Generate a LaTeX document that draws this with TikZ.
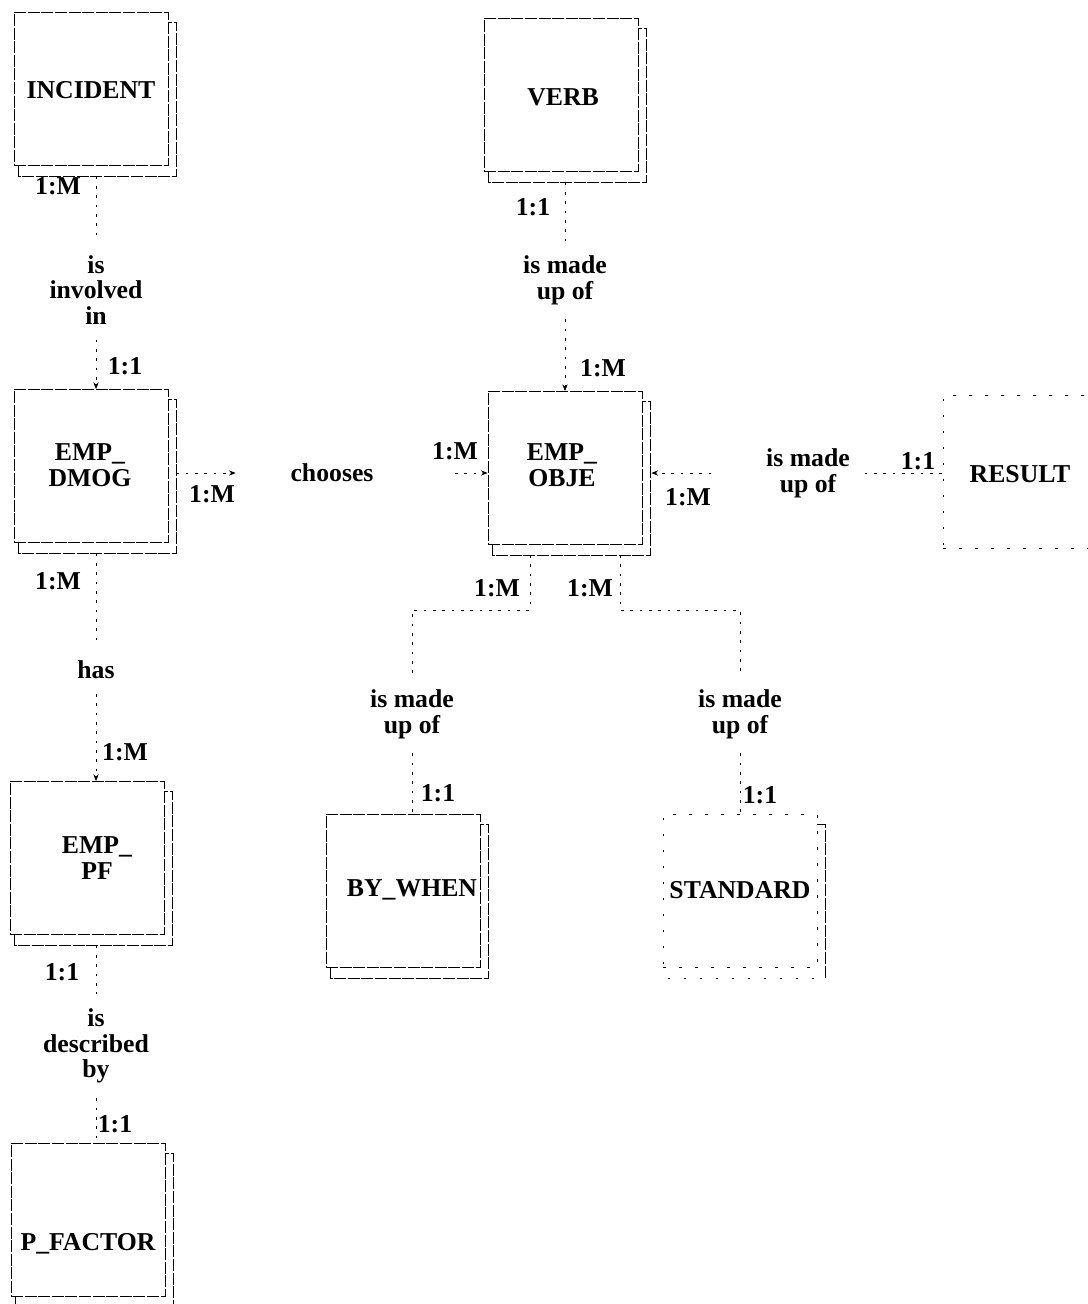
\documentclass[tikz,border=0pt]{standalone}
\usepackage{fontspec}
\setmainfont{Liberation Serif}
\usetikzlibrary{arrows.meta}
\newcommand{\eshadow}[2][]{\draw[shadowline,#1] ([xshift=3.75pt]#2.south west) -- ++(0,-7.5pt) -| ([xshift=6pt,yshift=-7.5pt]#2.north east) -- ([yshift=-7.5pt]#2.north east);}
\begin{document}
\begin{tikzpicture}[x=0.75pt,y=-0.75pt,
 ebox/.style={draw, line width=0.7pt, dash pattern=on 9pt off 1.2pt, minimum width=115.5pt, minimum height=114.75pt, inner sep=0pt},
 shadowline/.style={line width=0.7pt, dash pattern=on 9pt off 1.2pt},
 faintbox/.style={ebox, dash pattern=on 2pt off 10pt},
 faintline/.style={shadowline, dash pattern=on 2pt off 10pt},
 etext/.style={font=\fontsize{19.3}{19.3}\selectfont\bfseries, align=center, inner sep=1pt},
 rtext/.style={etext},
 card/.style={font=\fontsize{19.3}{19.3}\selectfont\bfseries, inner sep=1pt},
 conn/.style={line width=0.5pt, dash pattern=on 2pt off 5pt},
 tip/.style={-{Stealth[length=5pt,width=4pt]}}
]
\useasboundingbox[fill=white] (0,0) rectangle (1088,1304);

% entities
\node[ebox] (incident) at (91,89) {};
\eshadow{incident}
\node[etext] (incident-t) at (91,90) {INCIDENT};

\node[ebox] (verb) at (561,95) {};
\eshadow{verb}
\node[etext] (verb-t) at (563,97) {VERB};

\node[ebox] (dmog) at (91,466) {};
\eshadow{dmog}
\node[etext] (dmog-t) at (90,465) {EMP\_\\DMOG};

\node[ebox] (obje) at (565,468) {};
\eshadow{obje}
\node[etext] (obje-t) at (562,465) {EMP\_\\OBJE};

\node[ebox] (pf) at (87,858) {};
\eshadow{pf}
\node[etext] (pf-t) at (97,858) {EMP\_\\PF};

\node[ebox] (pfactor) at (88,1220) {};
\eshadow{pfactor}
\node[etext] (pfactor-t) at (88,1244) {P\_FACTOR};

\node[ebox] (bywhen) at (403,891) {};
\eshadow{bywhen}
\node[etext] (bywhen-t) at (412,890) {BY\_WHEN};

\node[faintbox] (standard) at (740,891) {};
\draw[shadowline] ([yshift=-7.5pt]standard.north east) -- ([xshift=6pt,yshift=-7.5pt]standard.north east) -- ([xshift=6pt,yshift=-7.5pt]standard.south east);
\draw[faintline] ([xshift=3.75pt,yshift=-7.5pt]standard.south west) -- ([xshift=6pt,yshift=-7.5pt]standard.south east);
\node[etext] (standard-t) at (740,890) {STANDARD};

\node[faintbox] (result) at (1020,472) {};
\node[etext] (result-t) at (1020,474) {RESULT};

% relationships
\node[rtext] (involved) at (96,290) {is\\involved\\in};
\node[rtext] (made1) at (565,280) {is made\\up of};
\node[rtext] (chooses) at (332,473) {chooses};
\node[rtext] (made2) at (808,473) {is made\\up of};
\node[rtext] (has) at (96,670) {has};
\node[rtext] (made3) at (412,714) {is made\\up of};
\node[rtext] (made4) at (740,714) {is made\\up of};
\node[rtext] (described) at (96,1046) {is\\described\\by};

% connectors
\draw[conn] ([yshift=-8pt]incident.south -| involved) -- ([yshift=10pt]involved.north);
\draw[conn,tip] ([yshift=-10pt]involved.south) -- (involved.south |- dmog.north);
\draw[conn] ([yshift=-8pt]verb.south -| made1) -- ([yshift=10pt]made1.north);
\draw[conn,tip] ([yshift=-10pt]made1.south) -- (made1.south |- obje.north);
\draw[conn,tip] ([xshift=6pt]dmog.east |- chooses.west) -- ([xshift=-40pt]chooses.west);
\draw[conn,tip] ([xshift=60pt]chooses.east) -- (chooses.east -| obje.west);
\draw[conn,tip] ([xshift=-40pt]made2.west) -- ([xshift=6.75pt]made2.west -| obje.east);
\draw[conn] ([xshift=10pt]made2.east) -- (made2.east -| result.west);
\draw[conn] ([yshift=-8pt]dmog.south -| has) -- ([yshift=10pt]has.north);
\draw[conn,tip] ([yshift=-10pt]has.south) -- (has.south |- pf.north);
\draw[conn] ([xshift=-26.25pt,yshift=-7.5pt]obje.south) -- ++(0,-41.25pt) -| ([yshift=10pt]made3.north);
\draw[conn] ([xshift=41.25pt,yshift=-7.5pt]obje.south) -- ++(0,-41.25pt) -| ([yshift=10pt]made4.north);
\draw[conn] ([yshift=-10pt]made3.south) -- (made3.south |- bywhen.north);
\draw[conn] ([yshift=-10pt]made4.south) -- (made4.south |- standard.north);
\draw[conn] ([yshift=-8pt]pf.south -| described) -- ([yshift=10pt]described.north);
\draw[conn] ([yshift=-10pt]described.south) -- (described.south |- pfactor.north);

% cardinalities
\node[card] (k1) at (58,186) {1:M};
\node[card] (k2) at (125,366) {1:1};
\node[card] (k3) at (533,207) {1:1};
\node[card] (k4) at (603,368) {1:M};
\node[card] (k5) at (212,494) {1:M};
\node[card] (k6) at (455,451) {1:M};
\node[card] (k7) at (688,497) {1:M};
\node[card] (k8) at (918,461) {1:1};
\node[card] (k9) at (58,581) {1:M};
\node[card] (k10) at (125,752) {1:M};
\node[card] (k11) at (497,588) {1:M};
\node[card] (k12) at (590,588) {1:M};
\node[card] (k13) at (438,793) {1:1};
\node[card] (k14) at (760,795) {1:1};
\node[card] (k15) at (62,972) {1:1};
\node[card] (k16) at (115,1124) {1:1};
\end{tikzpicture}
\end{document}
